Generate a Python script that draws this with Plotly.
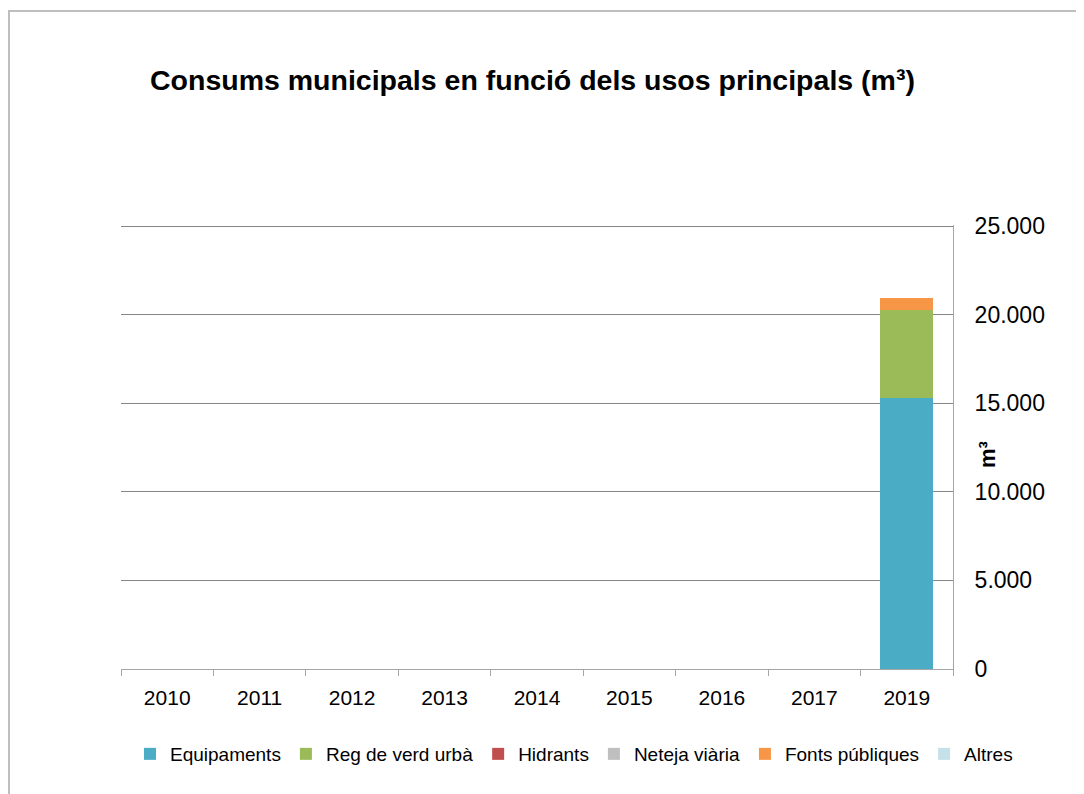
import plotly.graph_objects as go

years = ["2010", "2011", "2012", "2013", "2014", "2015", "2016", "2017", "2019"]
series_names = ["Equipaments", "Reg de verd urbà", "Hidrants", "Neteja viària", "Fonts públiques", "Altres"]
equipaments = [0, 0, 0, 0, 0, 0, 0, 0, 15290]
reg_verd = [0, 0, 0, 0, 0, 0, 0, 0, 4950]
hidrants = [0, 0, 0, 0, 0, 0, 0, 0, 0]
neteja = [0, 0, 0, 0, 0, 0, 0, 0, 0]
fonts = [0, 0, 0, 0, 0, 0, 0, 0, 680]
altres = [0, 0, 0, 0, 0, 0, 0, 0, 0]
colors = ["#4BACC6", "#9BBB59", "#C0504D", "#BFBFBF", "#F79646", "#C6E0EA"]
y_tickvals = [0, 5000, 10000, 15000, 20000, 25000]
y_ticktext = ["0", "5.000", "10.000", "15.000", "20.000", "25.000"]

fig = go.Figure()
for name, vals, col in zip(series_names, [equipaments, reg_verd, hidrants, neteja, fonts, altres], colors):
    fig.add_trace(go.Bar(x=years, y=vals, name=name, marker_color=col, marker_line_width=0))

# page has an 8px body margin; plot area in page pixels: x 121..953, y 225..669
OFF = 8
L, R, T, B = 121, 953, 225, 669
W, H = R - L, B - T
FW, FH = 1084 - OFF, 794 - OFF


def px_x(x):
    return (x - L) / W


def px_y(y):
    return (B - y) / H


font = "Arial, Liberation Sans, sans-serif"
fig.update_layout(
    width=FW, height=FH,
    barmode="stack", bargap=0.43,
    plot_bgcolor="white", paper_bgcolor="white",
    margin=dict(l=L - OFF, r=1084 - R, t=T - OFF, b=794 - B, autoexpand=False),
    font=dict(family=font, size=20, color="black"),
    showlegend=True,
    legend=dict(orientation="h", x=px_x(1018), xanchor="right",
                y=px_y(754), yanchor="middle", font=dict(size=19), traceorder="normal",
                itemclick=False),
    xaxis=dict(type="category", tickson="boundaries", ticks="outside", ticklen=6, tickcolor="#A6A6A6",
               showline=True, linecolor="#A6A6A6", linewidth=1, showgrid=False,
               ticklabelstandoff=10, tickfont=dict(size=21), fixedrange=True),
    yaxis=dict(side="right", range=[0, 25060], tickvals=y_tickvals, ticktext=y_ticktext,
               showgrid=True, gridcolor="#868686", gridwidth=1, showline=True, linecolor="#A6A6A6",
               ticks="", ticklabelstandoff=16, tickfont=dict(size=23), zeroline=False),
)
fig.add_annotation(text="<b>Consums municipals en funció dels usos principals (m³)</b>",
                   xref="paper", yref="paper", x=px_x(532), y=px_y(80), showarrow=False,
                   font=dict(size=28.5), xanchor="center", yanchor="middle")
fig.add_annotation(text="<b>m³</b>", xref="paper", yref="paper", x=px_x(987), y=px_y(455), textangle=-90,
                   showarrow=False, font=dict(size=22), xanchor="center", yanchor="middle")
# chart area border (top and left edges visible)
fig.add_shape(type="line", xref="paper", yref="paper", x0=px_x(8), x1=px_x(1100), y0=px_y(11), y1=px_y(11),
              line=dict(color="#BFBFBF", width=2))
fig.add_shape(type="line", xref="paper", yref="paper", x0=px_x(9), x1=px_x(9), y0=px_y(11), y1=px_y(810),
              line=dict(color="#BFBFBF", width=2))
fig.write_html("out.html")
